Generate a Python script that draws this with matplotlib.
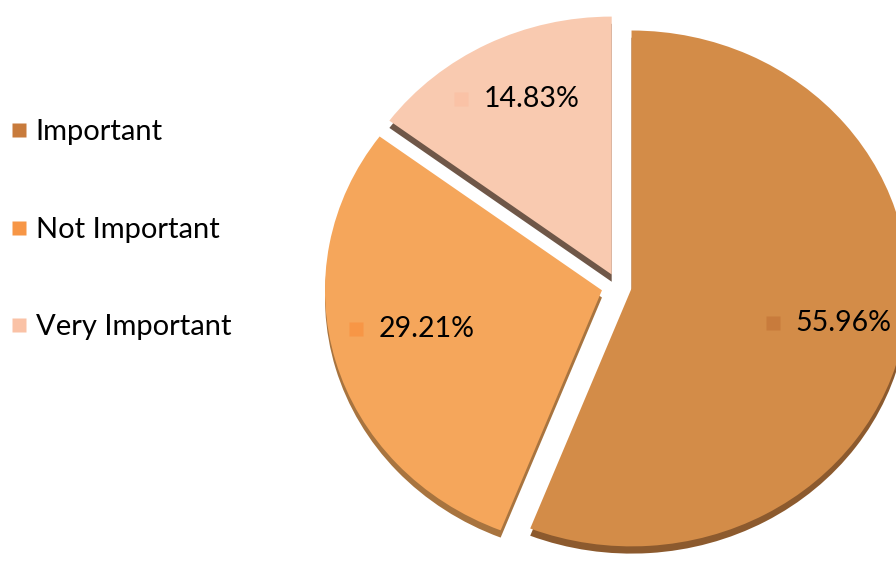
import numpy as np
import matplotlib
matplotlib.use("Agg")
import matplotlib.pyplot as plt
from matplotlib.lines import Line2D
from matplotlib.transforms import offset_copy

plt.rcParams['font.family'] = ['Lato', 'DejaVu Sans']

labels = ['Important', 'Not Important', 'Very Important']
values = [55.96, 29.21, 14.83]
colors = ['#D38C48', '#F5A65B', '#F9CAB0']
key_colors = ['#C87B3C', '#F79646', '#FAC2A6']
shadow_colors = ['#8C5A2E', '#A8743F', '#6F5748']
explode = [0.05, 0.06, 0.05]
label_dist = [0.71, 0.717, 0.77]
label_turn = [0, -4, 1]   # degrees

fig = plt.figure(figsize=(8.96, 5.61), dpi=100)
ax = fig.add_axes([0, 0, 1, 1])

# 3d-ish edge: same pie drawn a bit lower in dark shades
sh, _ = ax.pie(values, explode=explode, colors=shadow_colors, startangle=90,
               counterclock=False, center=(0, -0.028))
for w in sh:
    w.set_zorder(1)

wedges, _ = ax.pie(values, explode=explode, colors=colors, startangle=90,
                   counterclock=False)
for w in wedges:
    w.set_zorder(2)

ax.set_aspect('auto')
ax.set_xlim(-2.231, 1.004)
ax.set_ylim(-1.066, 1.109)
ax.axis('off')

# data labels with small colour key
tr_m = offset_copy(ax.transData, fig=fig, x=-52, y=0, units='dots')
tr_t = offset_copy(ax.transData, fig=fig, x=-29, y=0, units='dots')
for w, v, kc, d, t in zip(wedges, values, key_colors, label_dist, label_turn):
    mid = np.deg2rad((w.theta1 + w.theta2) / 2 + t)
    cx, cy = w.center
    px = cx + d * np.cos(mid)
    py = cy + d * np.sin(mid)
    ax.plot([px], [py], marker='s', ms=10, color=kc, mec='none',
            transform=tr_m, zorder=3)
    ax.text(px, py, '%.2f%%' % v, transform=tr_t, ha='left', va='center',
            fontsize=20.5, color='black', zorder=3)

handles = [Line2D([], [], marker='s', ls='none', ms=10, color=c, mec='none')
           for c in key_colors]
fig.legend(handles, labels, loc='upper left', bbox_to_anchor=(-0.004, 0.808),
           frameon=False, fontsize=21, labelspacing=2.45, handletextpad=0.2,
           handlelength=0.75, borderaxespad=0)

fig.savefig('out.png', dpi=100)
